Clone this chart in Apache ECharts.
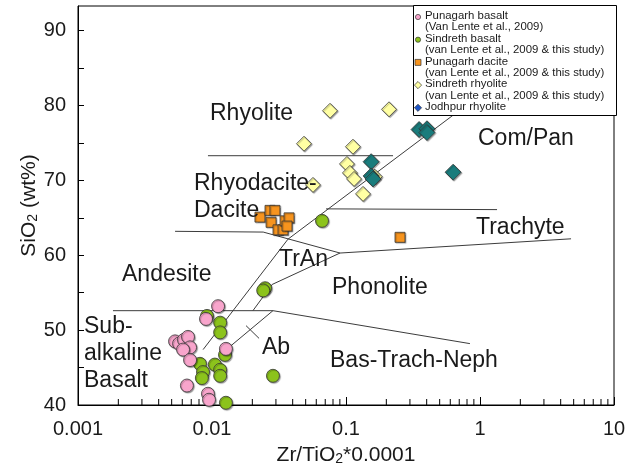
<!DOCTYPE html>
<html>
<head>
<meta charset="utf-8">
<script src="https://cdn.jsdelivr.net/npm/echarts@6/dist/echarts.min.js"></script>
<style>
html, body { margin: 0; padding: 0; background: #fff; }
#chart { width: 636px; height: 468px; }
</style>
</head>
<body>
<div id="chart"></div>
<script>
// Zr/TiO2*0.0001 vs SiO2 (wt%) samples
const sindrethBasalt = [
  [0.0249, 55.6], [0.0241, 55.3], [0.00918, 51.9], [0.0115, 51.0], [0.0115, 49.7],
  [0.0125, 46.7], [0.00813, 45.5], [0.00857, 44.4], [0.0084, 43.6], [0.0105, 45.4],
  [0.0115, 44.7], [0.0115, 43.9], [0.0285, 43.9], [0.0127, 40.3], [0.0662, 64.6]
];
const punagarhBasalt = [
  [0.0111, 53.2], [0.00902, 51.5], [0.0053, 48.5], [0.00568, 48.2], [0.00618, 48.7],
  [0.00662, 49.1], [0.00686, 47.7], [0.00608, 47.4], [0.00686, 46.0], [0.0065, 42.6],
  [0.00933, 41.5], [0.0095, 40.7], [0.0127, 47.5]
];
const punagarhDacite = [
  [0.0228, 65.1], [0.0271, 66.0], [0.0295, 66.0], [0.0276, 64.4], [0.0311, 63.4],
  [0.0339, 63.4], [0.0351, 64.6], [0.0376, 65.0], [0.0363, 63.9], [0.253, 62.4]
];
const sindrethRhyolite = [
  [0.076, 79.3], [0.2095, 79.5], [0.0486, 74.9], [0.1127, 74.5], [0.1017, 72.2],
  [0.107, 71.0], [0.1148, 70.2], [0.0567, 69.4], [0.134, 68.2], [0.164, 70.5]
];
const jodhpurRhyolite = [
  [0.351, 76.8], [0.402, 76.9], [0.402, 76.4], [0.154, 72.5], [0.154, 70.6],
  [0.159, 70.2], [0.63, 71.1]
];

// Field boundaries of the classification diagram
const boundaryLines = [
  [[0.00933, 73.3], [0.2244, 73.3]],
  [[0.0710, 66.2], [1.34, 66.1]],
  [[0.0053, 63.2], [0.0241, 63.1], [0.0902, 60.3]],
  [[0.0902, 60.3], [4.78, 62.2]],
  [[0.0902, 60.3], [0.0281, 56.1], [0.0202, 52.6]],
  [[0.00858, 47.4], [0.0369, 62.15], [0.650, 78.9]],
  [[0.001824, 52.6], [0.0285, 52.6]],
  [[0.0285, 52.6], [0.841, 48.2]],
  [[0.0285, 52.6], [0.0136, 47.8]],
  [[0.01795, 50.6], [0.02245, 48.9]]
];

const xMinorTicks = [
  0.002, 0.003, 0.004, 0.005, 0.006, 0.007, 0.008, 0.009,
  0.02, 0.03, 0.04, 0.05, 0.06, 0.07, 0.08, 0.09,
  0.2, 0.3, 0.4, 0.5, 0.6, 0.7, 0.8, 0.9,
  2, 3, 4, 5, 6, 7, 8, 9
];
const yTicks = [40, 45, 50, 55, 60, 65, 70, 75, 80, 85, 90];
const yLabels = [40, 50, 60, 70, 80, 90];

const fieldNames = [
  { text: 'Rhyolite', x: 210, y: 100 },
  { text: 'Com/Pan', x: 478, y: 125 },
  { text: 'Rhyodacite-\nDacite', x: 194, y: 170 },
  { text: 'Trachyte', x: 476, y: 214 },
  { text: 'TrAn', x: 279, y: 246 },
  { text: 'Andesite', x: 122, y: 261 },
  { text: 'Phonolite', x: 332, y: 274 },
  { text: 'Sub-\nalkaline\nBasalt', x: 84, y: 313 },
  { text: 'Ab', x: 262, y: 334 },
  { text: 'Bas-Trach-Neph', x: 330, y: 347 }
];

const legendNames = ['Punagarh basalt', 'Sindreth basalt', 'Punagarh dacite', 'Sindreth rhyolite', 'Jodhpur rhyolite'];
const legendSources = ['(Van Lente et al., 2009)', '(van Lente et al., 2009 & this study)',
  '(van Lente et al., 2009 & this study)', '(van Lente et al., 2009 & this study)', ''];

const FONT = '"Liberation Sans", Arial, sans-serif';
const INK = '#1a1a1a';
const EDGE = '#333';

const colors = {
  pink: '#F8A5CC',
  green: '#8CC31C',
  orange: '#F7941E',
  yellow: '#FFFFA3',
  teal: '#1A7C7C',
  blue: '#1E56C8'
};

function markerSeries(name, data, symbol, size, color) {
  return {
    name: name,
    type: 'scatter',
    data: data,
    symbol: symbol,
    symbolSize: size,
    z: 5,
    itemStyle: {
      color: color, borderColor: EDGE, borderWidth: 0.8, opacity: 1,
      shadowColor: 'rgba(0,0,0,0.35)', shadowOffsetX: 1, shadowOffsetY: 1, shadowBlur: 1
    },
    emphasis: { disabled: true }
  };
}

const series = [];
boundaryLines.forEach(function (seg) {
  series.push({
    type: 'line', data: seg, symbol: 'none', silent: true, z: 2,
    lineStyle: { color: '#3c3c3c', width: 1 }
  });
});
// minor ticks on the log axis (2..9 per decade)
series.push({
  type: 'custom',
  silent: true,
  z: 3,
  data: xMinorTicks.map(function (v) { return [v, 40]; }),
  renderItem: function (params, api) {
    const p = api.coord([api.value(0), api.value(1)]);
    return {
      type: 'line',
      shape: { x1: p[0], y1: p[1], x2: p[0], y2: p[1] - 6 },
      style: { stroke: '#000', lineWidth: 1 }
    };
  }
});
series.push(markerSeries('Sindreth basalt', sindrethBasalt, 'circle', 13, colors.green));
series.push(markerSeries('Punagarh basalt', punagarhBasalt, 'circle', 13, colors.pink));
series.push(markerSeries('Punagarh dacite', punagarhDacite, 'rect', 10, colors.orange));
series.push(markerSeries('Sindreth rhyolite', sindrethRhyolite, 'diamond', 15, colors.yellow));
series.push(markerSeries('Jodhpur rhyolite', jodhpurRhyolite, 'diamond', 16, colors.teal));

// Legend box built from graphic elements
const legendSymbols = [
  { shape: 'circle', color: colors.pink },
  { shape: 'circle', color: colors.green },
  { shape: 'rect', color: colors.orange },
  { shape: 'diamond', color: colors.yellow },
  { shape: 'diamond', color: colors.blue }
];
const LEG_X = 413, LEG_Y = 5, LEG_W = 203, LEG_H = 110, ROW = 22.7;
const graphics = [{
  type: 'rect', left: LEG_X, top: LEG_Y, z: 50,
  shape: { width: LEG_W, height: LEG_H },
  style: { fill: '#fff', stroke: '#000', lineWidth: 1 }
}];
legendNames.forEach(function (name, i) {
  const cy = LEG_Y + 12 + i * ROW;
  const s = legendSymbols[i];
  let el;
  if (s.shape === 'circle') {
    el = { type: 'circle', shape: { cx: LEG_X + 5, cy: cy, r: 2.6 } };
  } else if (s.shape === 'rect') {
    el = { type: 'rect', shape: { x: LEG_X + 2, y: cy - 3, width: 6, height: 6 } };
  } else {
    el = { type: 'polygon', shape: { points: [[LEG_X + 5, cy - 3.6], [LEG_X + 8.6, cy], [LEG_X + 5, cy + 3.6], [LEG_X + 1.4, cy]] } };
  }
  el.z = 51;
  el.style = { fill: s.color, stroke: EDGE, lineWidth: 0.7 };
  graphics.push(el);
  graphics.push({
    type: 'text', z: 51, left: LEG_X + 12, top: cy - 6.5,
    style: {
      text: legendSources[i] ? name + '\n' + legendSources[i] : name,
      font: '11.4px ' + FONT, fill: INK, lineHeight: 11.2
    }
  });
});
fieldNames.forEach(function (f) {
  graphics.push({
    type: 'text', z: 20, left: f.x, top: f.y,
    style: { text: f.text, font: '23px ' + FONT, fill: INK, lineHeight: 27 }
  });
});

const chart = echarts.init(document.getElementById('chart'), null, { renderer: 'canvas' });
chart.setOption({
  animation: false,
  backgroundColor: '#fff',
  grid: {
    left: 78, right: 22, top: 6, bottom: 63, outerBoundsMode: 'none', containLabel: false,
    show: true, borderColor: '#000', borderWidth: 1, backgroundColor: 'transparent'
  },
  xAxis: {
    type: 'log', logBase: 10, min: 0.001, max: 10,
    name: 'Zr/TiO{sub|2}*0.0001', nameLocation: 'middle', nameGap: 40,
    nameTextStyle: {
      fontFamily: FONT, fontSize: 21, color: INK,
      rich: { sub: { fontSize: 14, verticalAlign: 'bottom', padding: [7, 0, 0, 0], fontFamily: FONT, color: INK } }
    },
    axisLine: { show: true, lineStyle: { color: '#000', width: 1 } },
    axisTick: { show: true, inside: true, length: 8, lineStyle: { color: '#000' } },
    axisLabel: { fontFamily: FONT, fontSize: 20, color: INK, margin: 14,
      formatter: function (v) { return String(v); } },
    splitLine: { show: false }
  },
  yAxis: {
    type: 'value', min: 40, max: 93.3, interval: 10,
    name: 'SiO{sub|2} (wt%)', nameLocation: 'middle', nameGap: 38, nameRotate: 90,
    nameMoveOverlap: false,
    nameTextStyle: {
      fontFamily: FONT, fontSize: 21, color: INK,
      rich: { sub: { fontSize: 14, verticalAlign: 'bottom', padding: [7, 0, 0, 0], fontFamily: FONT, color: INK } }
    },
    axisLine: { show: true, lineStyle: { color: '#000', width: 1 } },
    axisTick: { show: true, inside: true, length: 6, customValues: yTicks, lineStyle: { color: '#000' } },
    axisLabel: { fontFamily: FONT, fontSize: 20, color: INK, margin: 12, customValues: yLabels },
    splitLine: { show: false }
  },
  series: series,
  graphic: graphics
});
</script>
</body>
</html>
